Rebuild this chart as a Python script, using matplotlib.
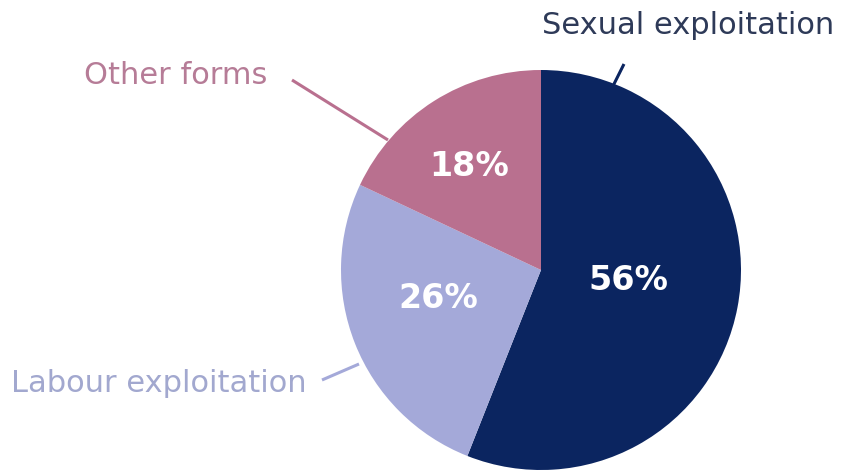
import numpy as np
import matplotlib.pyplot as plt

categories = ['Sexual exploitation', 'Labour exploitation', 'Other forms']
shares = [56, 26, 18]
colors = ['#0b2560', '#a4a9d9', '#b9708f']
text_colors = ['#2e3a58', '#a2a8cf', '#b67c97']

W, H = 842, 475
fig = plt.figure(figsize=(W / 100, H / 100), dpi=100)
ax = fig.add_axes([0, 0, 1, 1])

cx, cy, r = 541, H - 270, 200

wedges, _, autotexts = ax.pie(shares, colors=colors, startangle=90, counterclock=False,
                              center=(cx, cy), radius=r, autopct='%d%%', pctdistance=0.6,
                              wedgeprops=dict(linewidth=0),
                              textprops=dict(color='white', fontsize=24, fontweight='bold',
                                             family='DejaVu Sans'))
ax.set_xlim(0, W)
ax.set_ylim(0, H)
ax.set_aspect('equal')
ax.axis('off')

# label positions (pixels, from top)
pct_pos = [(628, 281), (438, 298), (469, 167)]
for t, (x, y) in zip(autotexts, pct_pos):
    t.set_position((x, H - y))

# callout labels: text position, line start, line end (pixels from top)
callouts = [
    ((542, 25), (624, 64), (613, 86)),
    ((11, 383), (322, 380), (359, 364)),
    ((84, 75), (292, 80), (388, 140)),
]
for (label, tc, c, (tpos, p0, p1)) in zip(categories, text_colors, colors, callouts):
    ax.text(tpos[0], H - tpos[1], label, ha='left', va='center', color=tc,
            fontsize=22, family='DejaVu Sans')
    ax.plot([p0[0], p1[0]], [H - p0[1], H - p1[1]], color=c, lw=2.2,
            solid_capstyle='butt')

fig.savefig('out.png', dpi=100, facecolor='white')
